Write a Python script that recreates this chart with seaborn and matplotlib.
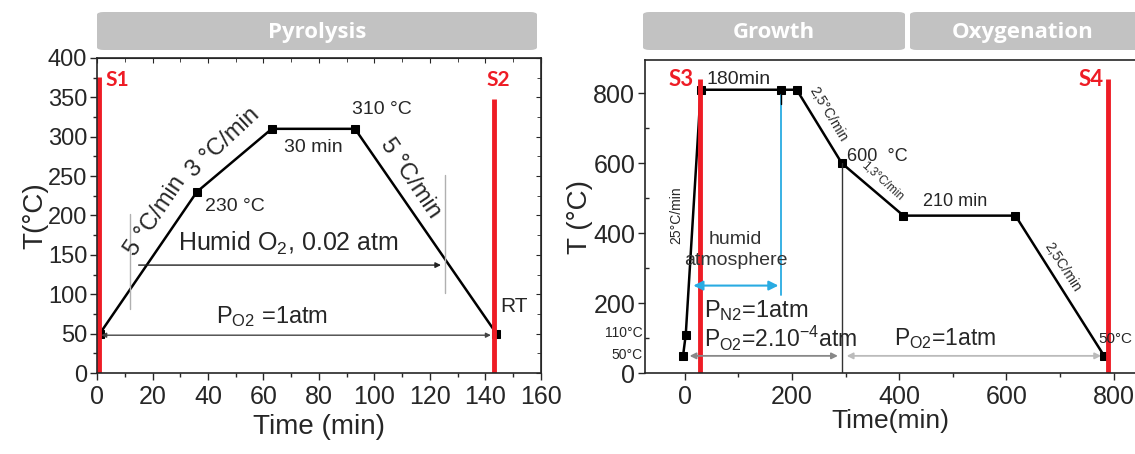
import matplotlib.pyplot as plt
import seaborn as sns
from matplotlib.patches import FancyBboxPatch
from matplotlib.ticker import MultipleLocator

# pyrolysis profile (S1 -> S2)
pyro_time = [1, 36, 63, 93, 144]
pyro_temp = [50, 230, 310, 310, 50]

# growth + oxygenation profile (S3 -> S4)
grow_time = [-3, 2, 30, 180, 209, 293, 408, 617, 782]
grow_temp = [50, 110, 810, 810, 810, 600, 450, 450, 50]

pyro_xticks = [0, 20, 40, 60, 80, 100, 120, 140, 160]
pyro_yticks = [0, 50, 100, 150, 200, 250, 300, 350, 400]
grow_xticks = [0, 200, 400, 600, 800]
grow_yticks = [0, 200, 400, 600, 800]

stage_names = ["Pyrolysis", "Growth", "Oxygenation"]

sns.set_style("ticks")
plt.rcParams['font.family'] = ['Liberation Sans', 'DejaVu Sans']
plt.rcParams['mathtext.fontset'] = 'custom'
plt.rcParams['mathtext.rm'] = 'Liberation Sans'
plt.rcParams['mathtext.it'] = 'Liberation Sans'

fig = plt.figure(figsize=(11.35, 4.54), dpi=100)
ax1 = fig.add_axes([0.0855, 0.1784, 0.391, 0.694])
ax2 = fig.add_axes([0.5683, 0.1784, 0.4317, 0.6894])

RED = '#ee1c25'
BLUE = '#29abe2'

# -------------------------------
# Left panel: pyrolysis
# -------------------------------
sns.lineplot(x=pyro_time, y=pyro_temp, marker='s', markersize=6, color='black',
             linewidth=1.8, markeredgecolor='black', ax=ax1)
ax1.set_xlim(0, 160)
ax1.set_ylim(0, 400)
ax1.set_xticks(pyro_xticks)
ax1.set_yticks(pyro_yticks)
ax1.xaxis.set_minor_locator(MultipleLocator(10))
ax1.yaxis.set_minor_locator(MultipleLocator(25))
ax1.tick_params(which='both', direction='out', width=1)
ax1.tick_params(axis='x', labelsize=18)
ax1.tick_params(axis='y', labelsize=17, pad=2)
ax1.tick_params(which='major', length=5)
ax1.tick_params(which='minor', length=3)
for sp in ax1.spines.values():
    sp.set_linewidth(1.2)
top1 = ax1.secondary_xaxis('top')
top1.set_xticks(pyro_xticks)
top1.xaxis.set_minor_locator(MultipleLocator(10))
top1.tick_params(which='both', direction='in', labeltop=False)
top1.tick_params(which='minor', length=3)
right1 = ax1.secondary_yaxis('right')
right1.set_yticks(pyro_yticks)
right1.yaxis.set_minor_locator(MultipleLocator(25))
right1.tick_params(which='both', direction='in', labelright=False)
right1.tick_params(which='minor', length=3)
ax1.set_xlabel('Time (min)', fontsize=20, labelpad=4)
ax1.set_ylabel('T(°C)', fontsize=20, labelpad=0)

ax1.plot([0.8, 0.8], [0, 376], color=RED, lw=3.5, solid_capstyle='butt')
ax1.plot([143.2, 143.2], [0, 348], color=RED, lw=3.5, solid_capstyle='butt')
ax1.text(3.2, 372, 'S1', color=RED, fontsize=15, fontweight='bold', family='Lato', va='center')
ax1.text(140.5, 372, 'S2', color=RED, fontsize=15, fontweight='bold', family='Lato', va='center')

ax1.plot([11.8, 11.8], [81, 202], color='#b0b0b0', lw=1)
ax1.plot([125.5, 125.5], [102, 251], color='#b0b0b0', lw=1)
ax1.annotate('', xy=(125, 137), xytext=(14, 137),
             arrowprops=dict(arrowstyle='-|>', color='#222222', lw=1, mutation_scale=8))
ax1.annotate('', xy=(143, 48), xytext=(0.5, 48),
             arrowprops=dict(arrowstyle='<|-|>', color='#444444', lw=1, mutation_scale=7))

ax1.text(21, 199, '5 °C/min', rotation=56, fontsize=17, ha='center', va='center')
ax1.text(45.5, 293, '3 °C/min', rotation=43, fontsize=17, ha='center', va='center')
ax1.text(113, 247, '5 °C/min', rotation=-56, fontsize=17, ha='center', va='center')
ax1.text(92, 335, '310 °C', fontsize=14, va='center')
ax1.text(39, 212, '230 °C', fontsize=14, va='center')
ax1.text(78, 286, '30 min', fontsize=14, ha='center', va='center')
ax1.text(69, 164, 'Humid O$_2$, 0.02 atm', fontsize=18, ha='center', va='center')
ax1.text(63, 72, 'P$_{O2}$ =1atm', fontsize=17, ha='center', va='center')
ax1.text(145.5, 85, 'RT', fontsize=15, va='center')

# -------------------------------
# Right panel: growth and oxygenation
# -------------------------------
sns.lineplot(x=grow_time, y=grow_temp, marker='s', markersize=6, color='black',
             linewidth=1.8, markeredgecolor='black', ax=ax2)
ax2.set_xlim(-74, 840)
ax2.set_ylim(0, 895)
ax2.set_xticks(grow_xticks)
ax2.set_yticks(grow_yticks)
ax2.xaxis.set_minor_locator(MultipleLocator(100))
ax2.yaxis.set_minor_locator(MultipleLocator(100))
ax2.tick_params(which='both', direction='out', labelsize=18, width=1)
ax2.tick_params(axis='y', pad=2)
ax2.tick_params(which='major', length=5)
ax2.tick_params(axis='y', which='minor', direction='in', length=3)
ax2.tick_params(axis='x', which='minor', length=3)
ax2.spines['right'].set_visible(False)
for sp in ax2.spines.values():
    sp.set_linewidth(1.2)
ax2.set_xlabel('Time(min)', fontsize=19, labelpad=0)
ax2.set_ylabel('T (°C)', fontsize=20, labelpad=0)

ax2.plot([29, 29], [0, 842], color=RED, lw=3.5, solid_capstyle='butt')
ax2.plot([790.5, 790.5], [0, 842], color=RED, lw=3.5, solid_capstyle='butt')
ax2.text(-7.5, 839, 'S3', color=RED, fontsize=16, fontweight='bold', family='Lato',
         ha='center', va='center')
ax2.text(758, 839, 'S4', color=RED, fontsize=16, fontweight='bold', family='Lato',
         ha='center', va='center')

ax2.plot([180, 180], [223, 796], color=BLUE, lw=1.3)
ax2.plot([180, 180], [770, 810], color='black', lw=1)
ax2.plot([293, 293], [0, 600], color='#333333', lw=1)
ax2.annotate('', xy=(180, 250), xytext=(11, 250),
             arrowprops=dict(arrowstyle='<|-|>', color=BLUE, lw=1.5, mutation_scale=14))
ax2.annotate('', xy=(291, 49), xytext=(4, 49),
             arrowprops=dict(arrowstyle='<|-|>', color='#888888', lw=1.3, mutation_scale=9))
ax2.annotate('', xy=(782, 49), xytext=(297, 49),
             arrowprops=dict(arrowstyle='<|-|>', color='#bbbbbb', lw=1.3, mutation_scale=9))

ax2.text(101, 839, '180min', fontsize=14, ha='center', va='center')
ax2.text(303, 620, '600  °C', fontsize=13, va='center')
ax2.text(505, 490, '210 min', fontsize=13, ha='center', va='center')
ax2.text(95, 352, 'humid\natmosphere', fontsize=14, ha='center', va='center',
         color='#333333', linespacing=1.3)
ax2.text(36, 180, 'P$_{N2}$=1atm', fontsize=17, va='center')
ax2.text(36, 98, 'P$_{O2}$=2.10$^{-4}$atm', fontsize=16.5, va='center')
ax2.text(391, 98, 'P$_{O2}$=1atm', fontsize=16.5, va='center')
ax2.text(-78, 113, '110°C', fontsize=10, ha='right', va='center', clip_on=False)
ax2.text(-78, 51, '50°C', fontsize=10, ha='right', va='center', clip_on=False)
ax2.text(772, 98, '50°C', fontsize=11, va='center')
ax2.text(-16, 452, '25°C/min', fontsize=10, rotation=90, ha='center', va='center')
ax2.text(267, 739, '2,5°C/min', fontsize=10, rotation=-59, ha='center', va='center')
ax2.text(368, 548, '1,3°C/min', fontsize=8.5, rotation=-42, ha='center', va='center')
ax2.text(704, 304, '2,5C/min', fontsize=10, rotation=-57, ha='center', va='center')

# -------------------------------
# Stage banners on top
# -------------------------------
banners = [(97, 537), (643, 905), (910, 1150)]
for (x0, x1), name in zip(banners, stage_names):
    fx0, fx1 = x0 / 1135, x1 / 1135
    fy0, fy1 = 1 - 50 / 454, 1 - 12 / 454
    fig.patches.append(FancyBboxPatch((fx0, fy0), fx1 - fx0, fy1 - fy0,
                                      boxstyle='round,pad=0,rounding_size=0.006',
                                      transform=fig.transFigure, facecolor='#c2c2c2',
                                      edgecolor='none'))
    fig.text((fx0 + min(fx1, 1.0)) / 2, (fy0 + fy1) / 2 - 0.003, name, color='white',
             fontsize=16, fontweight='bold', family='Open Sans', ha='center', va='center')

fig.savefig('out.png', dpi=100)
